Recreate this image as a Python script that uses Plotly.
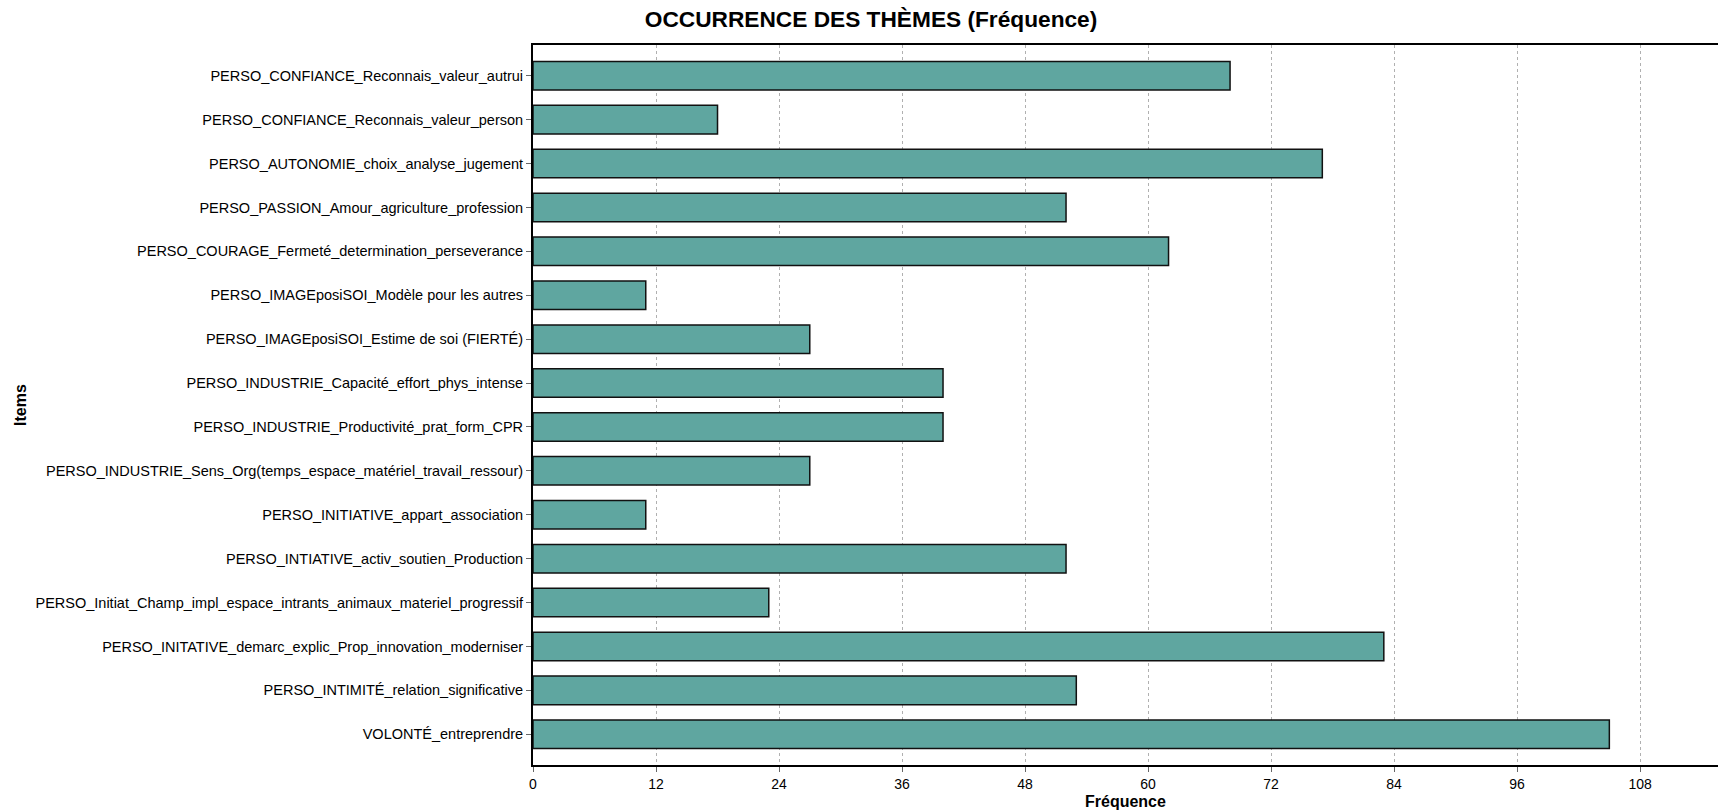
import plotly.graph_objects as go

items = [
    "PERSO_CONFIANCE_Reconnais_valeur_autrui",
    "PERSO_CONFIANCE_Reconnais_valeur_person",
    "PERSO_AUTONOMIE_choix_analyse_jugement",
    "PERSO_PASSION_Amour_agriculture_profession",
    "PERSO_COURAGE_Fermeté_determination_perseverance",
    "PERSO_IMAGEposiSOI_Modèle pour les autres",
    "PERSO_IMAGEposiSOI_Estime de soi (FIERTÉ)",
    "PERSO_INDUSTRIE_Capacité_effort_phys_intense",
    "PERSO_INDUSTRIE_Productivité_prat_form_CPR",
    "PERSO_INDUSTRIE_Sens_Org(temps_espace_matériel_travail_ressour)",
    "PERSO_INITIATIVE_appart_association",
    "PERSO_INTIATIVE_activ_soutien_Production",
    "PERSO_Initiat_Champ_impl_espace_intrants_animaux_materiel_progressif",
    "PERSO_INITATIVE_demarc_explic_Prop_innovation_moderniser",
    "PERSO_INTIMITÉ_relation_significative",
    "VOLONTÉ_entreprendre",
]
frequences = [68, 18, 77, 52, 62, 11, 27, 40, 40, 27, 11, 52, 23, 83, 53, 105]
x_ticks = [0, 12, 24, 36, 48, 60, 72, 84, 96, 108]

title_text = "OCCURRENCE DES THÈMES (Fréquence)"
x_title = "Fréquence"
y_title = "Items"

FONT = "Liberation Sans, Arial, sans-serif"

fig = go.Figure()
fig.add_trace(go.Bar(
    x=frequences,
    y=items,
    orientation="h",
    width=0.65,
    marker=dict(color="#5FA6A0", line=dict(color="#111111", width=1.5)),
    showlegend=False,
))

fig.update_layout(
    width=1718,
    height=812,
    autosize=False,
    paper_bgcolor="white",
    plot_bgcolor="white",
    margin=dict(l=533, r=0, t=45, b=47, autoexpand=False),
    title=dict(
        text=title_text,
        x=0.507,
        xanchor="center",
        y=1 - 19 / 812,
        yanchor="middle",
        font=dict(family=FONT, size=22.7, color="black", weight="bold"),
    ),
    font=dict(family=FONT, color="black"),
)

fig.update_xaxes(
    range=[0, 115.6],
    tickmode="array",
    tickvals=x_ticks,
    ticktext=[str(v) for v in x_ticks],
    ticks="outside",
    ticklen=5,
    tickcolor="#666666",
    tickfont=dict(family=FONT, size=14, color="black"),
    showgrid=True,
    gridcolor="#b0b0b0",
    griddash="dot",
    gridwidth=1,
    showline=True,
    linecolor="black",
    linewidth=2,
    mirror=True,
    zeroline=False,
    automargin=False,
)

fig.update_yaxes(
    categoryorder="array",
    categoryarray=items,
    autorange=False,
    range=[15.7, -0.7],
    ticks="outside",
    ticklen=5,
    tickcolor="#666666",
    tickfont=dict(family=FONT, size=14.5, color="black"),
    showline=True,
    linecolor="black",
    linewidth=2,
    showgrid=False,
    zeroline=False,
    automargin=False,
)

fig.add_annotation(
    text=y_title,
    xref="paper", yref="paper",
    x=0, y=0.5,
    xanchor="center", yanchor="middle",
    xshift=-513,
    textangle=-90,
    showarrow=False,
    font=dict(family=FONT, size=16, color="black", weight="bold"),
)

fig.add_annotation(
    text=x_title,
    xref="paper", yref="paper",
    x=0.5, y=0,
    xanchor="center", yanchor="middle",
    yshift=-36,
    showarrow=False,
    font=dict(family=FONT, size=16, color="black", weight="bold"),
)

fig.write_html(
    "out.html",
    config={"displayModeBar": False},
    post_script="document.body.style.margin='0';document.body.style.overflow='hidden';",
)
